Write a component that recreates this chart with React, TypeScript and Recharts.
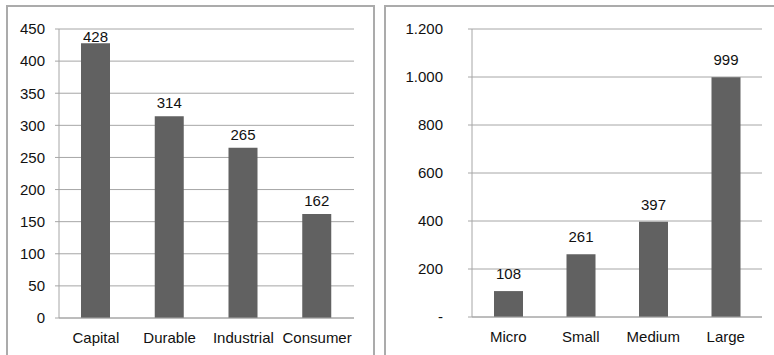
import React from "react";
import { BarChart, Bar, XAxis, YAxis, CartesianGrid, LabelList } from "recharts";

const sectorCategories = ["Capital", "Durable", "Industrial", "Consumer"];
const sectorValues = [428, 314, 265, 162];
const sectorTicks = [0, 50, 100, 150, 200, 250, 300, 350, 400, 450];

const sizeCategories = ["Micro", "Small", "Medium", "Large"];
const sizeValues = [108, 261, 397, 999];
const sizeTicks = [0, 200, 400, 600, 800, 1000, 1200];

const FONT = "'Liberation Sans', Arial, sans-serif";
const GRID = "#a6a6a6";
const BAR = "#616161";
const TEXT = "#111";

const fmtDot = (v: number) =>
  v === 0 ? "-" : String(v).replace(/\B(?=(\d{3})+(?!\d))/g, ".");

const makeLabel = (offset: number, minY: number) => (props: any) => {
  const { x, y, width, value } = props;
  const ty = Math.max(Number(y) - offset, minY);
  return (
    <text
      x={Number(x) + Number(width) / 2}
      y={ty}
      textAnchor="middle"
      fontSize={15}
      fontFamily={FONT}
      fill={TEXT}
    >
      {value}
    </text>
  );
};

interface PanelChartProps {
  categories: string[];
  values: number[];
  ticks: number[];
  width: number;
  height: number;
  yWidth: number;
  tickMargin: number;
  margin: { top: number; right: number; bottom: number; left: number };
  labelOffset: number;
  labelMinY: number;
  formatter?: (v: number) => string;
}

function PanelChart(p: PanelChartProps) {
  const data = p.categories.map((c, i) => ({ name: c, value: p.values[i] }));
  const bounds = p.categories.map((_, i) => i).concat(p.categories.length);
  const max = p.ticks[p.ticks.length - 1];
  return (
    <BarChart width={p.width} height={p.height} data={data} margin={p.margin}>
      <CartesianGrid vertical={false} stroke={GRID} />
      <XAxis
        xAxisId={0}
        type="number"
        domain={[0, p.categories.length]}
        ticks={bounds}
        allowDataOverflow
        tick={false}
        tickSize={5}
        height={1}
        axisLine={{ stroke: GRID }}
        tickLine={{ stroke: GRID }}
      />
      <XAxis
        xAxisId="cat"
        dataKey="name"
        type="category"
        height={30}
        axisLine={false}
        tickLine={false}
        tickSize={0}
        tickMargin={13}
        interval={0}
        tick={{ fontSize: 15, fill: TEXT, fontFamily: FONT }}
      />
      <YAxis
        domain={[0, max]}
        ticks={p.ticks}
        width={p.yWidth}
        tickSize={4}
        tickMargin={p.tickMargin}
        interval={0}
        axisLine={{ stroke: GRID }}
        tickLine={{ stroke: GRID }}
        tickFormatter={p.formatter}
        tick={{ fontSize: 15, fill: TEXT, fontFamily: FONT }}
      />
      <Bar
        xAxisId="cat"
        dataKey="value"
        fill={BAR}
        barSize={29}
        isAnimationActive={false}
      >
        <LabelList
          dataKey="value"
          content={makeLabel(p.labelOffset, p.labelMinY)}
        />
      </Bar>
    </BarChart>
  );
}

const panelStyle: React.CSSProperties = {
  position: "absolute",
  top: 5,
  height: 400,
  border: "2px solid #ababab",
  boxSizing: "border-box",
};

export default function App() {
  return (
    <div
      style={{
        position: "absolute",
        left: 0,
        top: 0,
        width: 774,
        height: 355,
        overflow: "hidden",
        background: "#fff",
        fontFamily: FONT,
      }}
    >
      <div style={{ ...panelStyle, left: 6, width: 369 }} />
      <div style={{ ...panelStyle, left: 384, width: 400 }} />
      <div style={{ position: "absolute", left: 7, top: 6 }}>
        <PanelChart
          categories={sectorCategories}
          values={sectorValues}
          ticks={sectorTicks}
          width={367}
          height={349}
          yWidth={52}
          tickMargin={10}
          margin={{ top: 23, right: 20, bottom: 6, left: 0 }}
          labelOffset={8}
          labelMinY={36}
        />
      </div>
      <div style={{ position: "absolute", left: 385, top: 6 }}>
        <PanelChart
          categories={sizeCategories}
          values={sizeValues}
          ticks={sizeTicks}
          width={389}
          height={349}
          yWidth={87}
          tickMargin={25}
          margin={{ top: 23, right: 12, bottom: 7, left: 0 }}
          labelOffset={12}
          labelMinY={36}
          formatter={fmtDot}
        />
      </div>
    </div>
  );
}
